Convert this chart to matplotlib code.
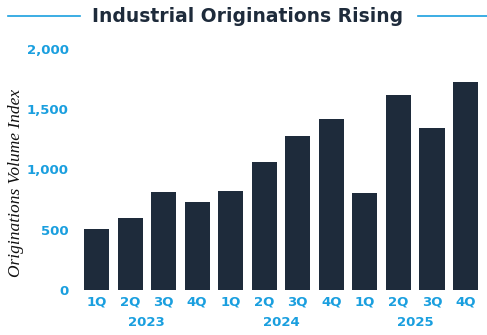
import matplotlib
matplotlib.use("Agg")
import matplotlib.pyplot as plt
from matplotlib.lines import Line2D

# Quarterly originations volume index
quarters = ["1Q", "2Q", "3Q", "4Q"] * 3
years = ["2023", "2024", "2025"]
volume = [505, 595, 810, 727, 818, 1058, 1273, 1413, 802, 1612, 1339, 1727]

navy = "#1e2b3b"
cyan = "#1a9fdf"

fig = plt.figure(figsize=(4.87, 3.35), dpi=100)
ax = fig.add_axes([0.1638, 0.1343, 0.8265, 0.7206])

x = list(range(len(volume)))
ax.bar(x, volume, width=0.75, color=navy)

ax.set_xlim(-0.5, len(volume) - 0.5)
ax.set_ylim(0, 2000)
ax.set_yticks([0, 500, 1000, 1500, 2000])
ax.set_yticklabels([f"{v:,}" for v in [0, 500, 1000, 1500, 2000]])
ax.set_xticks(x)
ax.set_xticklabels(quarters)

for spine in ax.spines.values():
    spine.set_visible(False)
ax.tick_params(length=0, colors=cyan, labelsize=9.5)
ax.tick_params(axis="y", pad=8)
ax.tick_params(axis="x", pad=4)
for lab in ax.get_xticklabels() + ax.get_yticklabels():
    lab.set_fontweight("bold")

# year labels centred under each group of four quarters
for i, yr in enumerate(years):
    ax.text(4 * i + 1.5, -0.133, yr, transform=ax.get_xaxis_transform(),
            ha="center", va="center", color=cyan, fontsize=9.5, fontweight="bold")

ax.set_ylabel("Originations Volume Index", family="Liberation Serif",
              style="italic", fontsize=12.5, color="#111111")
ax.yaxis.set_label_coords(-0.139, 0.443)

# title with rules on either side
fig.text(0.508, 0.952, "Industrial Originations Rising", ha="center", va="center",
         fontsize=13.5, fontweight="bold", color=navy)
fig.add_artist(Line2D([0.016, 0.164], [0.952, 0.952], color=cyan, lw=1.2,
                      transform=fig.transFigure))
fig.add_artist(Line2D([0.858, 1.0], [0.952, 0.952], color=cyan, lw=1.2,
                      transform=fig.transFigure))

fig.savefig("out.png", dpi=100)
